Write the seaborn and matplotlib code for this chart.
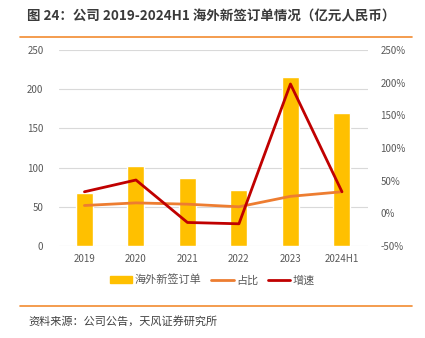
import matplotlib
matplotlib.use("Agg")
import matplotlib.pyplot as plt
import seaborn as sns
import pandas as pd
import numpy as np
from matplotlib.patches import Patch
from matplotlib.lines import Line2D
from matplotlib.ticker import FuncFormatter

categories = ["2019", "2020", "2021", "2022", "2023", "2024H1"]
orders = [68, 102, 87, 72, 215, 170]
share = [12, 16, 14, 10, 26, 33]
growth = [33, 51, -14, -16, 198, 33]

sns.set_theme(style="white")
plt.rcParams['font.family'] = ['Noto Sans CJK SC', 'DejaVu Sans']

df = pd.DataFrame({"year": categories, "orders": orders, "share": share, "growth": growth})

fig = plt.figure(figsize=(4.25, 3.38), dpi=100)
ax = fig.add_axes([58.7/425, 1 - 246/338, (367.7-58.7)/425, (246-50)/338])

sns.barplot(data=df, x="year", y="orders", color="#FFC000", width=0.33, ax=ax,
            saturation=1, order=categories)
ax.set_ylim(0, 250)
ax.set_yticks([0, 50, 100, 150, 200, 250])
ax.set_xlim(-0.5, 5.5)
ax.grid(axis="y", color="#D9D9D9", linewidth=0.8)
ax.set_axisbelow(True)
for s in ax.spines.values():
    s.set_visible(False)
ax.set_xlabel("")
ax.set_ylabel("")
ax.tick_params(axis="both", length=0, labelsize=7, colors="#595959", pad=6)
ax.tick_params(axis="y", pad=11)

ax2 = ax.twinx()
xpos = np.arange(len(categories))
sns.lineplot(x=xpos, y=df["share"], color="#ED7D31", linewidth=2, ax=ax2)
sns.lineplot(x=xpos, y=df["growth"], color="#C00000", linewidth=2, ax=ax2)
ax2.set_ylim(-50, 250)
ax2.set_yticks([-50, 0, 50, 100, 150, 200, 250])
ax2.yaxis.set_major_formatter(FuncFormatter(lambda v, p: f"{int(v)}%"))
for s in ax2.spines.values():
    s.set_visible(False)
ax2.set_ylabel("")
ax2.tick_params(axis="y", length=0, labelsize=7, colors="#595959", pad=9)
ax.set_xlim(-0.5, 5.5)

handles = [Patch(color="#FFC000"),
           Line2D([0], [0], color="#ED7D31", lw=2),
           Line2D([0], [0], color="#C00000", lw=2)]
fig.legend(handles, ["海外新签订单", "占比", "增速"], loc="center",
           bbox_to_anchor=(0.5, 1 - 280/338), ncol=3, frameon=False,
           fontsize=8, handlelength=2.0, handletextpad=0.2, columnspacing=0.9,
           labelcolor="#595959")

fig.text(27/425, 1 - 16/338, "图 24：公司 2019-2024H1 海外新签订单情况（亿元人民币）",
         fontsize=9.7, fontweight="bold", color="#3A3A3A", va="center", ha="left")
fig.add_artist(Line2D([20/425, 412/425], [1 - 37/338, 1 - 37/338], color="#F28B30", lw=1.2))
fig.add_artist(Line2D([20/425, 412/425], [1 - 306/338, 1 - 306/338], color="#F28B30", lw=1.2))
fig.text(28/425, 1 - 321/338, "资料来源：公司公告，天风证券研究所",
         fontsize=8, color="#404040", va="center", ha="left")

fig.savefig("out.png", dpi=100)
